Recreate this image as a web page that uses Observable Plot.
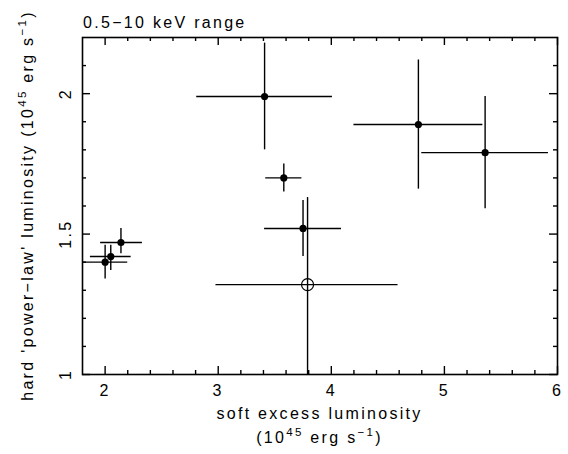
<!DOCTYPE html>
<html><head><meta charset="utf-8">
<script src="https://cdn.jsdelivr.net/npm/d3@7"></script>
<script src="https://cdn.jsdelivr.net/npm/@observablehq/plot@0.6"></script>
<style>
body{margin:0;background:#fff}
svg text{letter-spacing:2.3px}
</style>
</head><body><div id="chart"></div>
<script>
// data
const xs  = [2.00, 2.05, 2.14, 3.41, 3.58, 3.75, 3.79, 4.77, 5.36];
const ys  = [1.40, 1.42, 1.47, 1.99, 1.70, 1.52, 1.32, 1.89, 1.79];
const xlo = [1.80, 1.87, 1.96, 2.81, 3.42, 3.41, 2.98, 4.20, 4.80];
const xhi = [2.20, 2.23, 2.33, 4.01, 3.74, 4.09, 4.59, 5.34, 5.92];
const ylo = [1.34, 1.37, 1.43, 1.80, 1.65, 1.42, 1.00, 1.66, 1.59];
const yhi = [1.46, 1.46, 1.52, 2.18, 1.75, 1.62, 1.63, 2.12, 1.99];
const kind = ["filled","filled","filled","filled","filled","filled","open","filled","filled"];

const xMajor = [2, 3, 4, 5, 6];
const xMinor = [2.2, 2.4, 2.6, 2.8, 3.2, 3.4, 3.6, 3.8, 4.2, 4.4, 4.6, 4.8, 5.2, 5.4, 5.6, 5.8];
const yMajor = [1, 1.5, 2];
const yMinor = [1.1, 1.2, 1.3, 1.4, 1.6, 1.7, 1.8, 1.9, 2.1];

const titleText = "0.5\u221210 keV range";
const xLabel1 = "soft excess luminosity";
const unitParts = [["(10",0],["45",1],[" erg s",0],["\u22121",1],[")",0]];
const yLabelParts = [["hard 'power\u2212law' luminosity (10",0],["45",1],[" erg s",0],["\u22121",1],[")",0]];

const data = xs.map((x, i) => ({x, y: ys[i], xlo: xlo[i], xhi: xhi[i], ylo: ylo[i], yhi: yhi[i], kind: kind[i]}));

const W = 568, H = 454, mL = 82, mR = 11, mT = 37, mB = 80;
const innerW = W - mL - mR, innerH = H - mT - mB;
const FONT = '"Liberation Sans", Arial, Helvetica, sans-serif';
const majorLen = 8, minorLen = 4, sw = 1.4;

const plot = Plot.plot({
  width: W, height: H,
  marginLeft: mL, marginRight: mR, marginTop: mT, marginBottom: mB,
  x: {domain: [1.8, 6]},
  y: {domain: [1, 2.2]},
  style: {fontFamily: FONT, fontSize: "16px", background: "white", color: "black"},
  marks: [
    // inward ticks on all four sides
    Plot.ruleX(xMajor, {x: d => d, insetTop: innerH - majorLen, stroke: "black", strokeWidth: sw}),
    Plot.ruleX(xMinor, {x: d => d, insetTop: innerH - minorLen, stroke: "black", strokeWidth: sw}),
    Plot.ruleX(xMajor, {x: d => d, insetBottom: innerH - majorLen, stroke: "black", strokeWidth: sw}),
    Plot.ruleX(xMinor, {x: d => d, insetBottom: innerH - minorLen, stroke: "black", strokeWidth: sw}),
    Plot.ruleY(yMajor, {y: d => d, insetRight: innerW - majorLen, stroke: "black", strokeWidth: sw}),
    Plot.ruleY(yMinor, {y: d => d, insetRight: innerW - minorLen, stroke: "black", strokeWidth: sw}),
    Plot.ruleY(yMajor, {y: d => d, insetLeft: innerW - majorLen, stroke: "black", strokeWidth: sw}),
    Plot.ruleY(yMinor, {y: d => d, insetLeft: innerW - minorLen, stroke: "black", strokeWidth: sw}),
    Plot.axisX({ticks: xMajor, tickSize: 0, tickPadding: 10, tickFormat: d => String(d), label: null, fontSize: 16}),
    Plot.axisY({ticks: yMajor, tickSize: 0, tickPadding: 16.5, tickRotate: -90, textAnchor: "middle", lineAnchor: "middle", tickFormat: d => String(d), label: null, fontSize: 16}),
    // error bars
    Plot.ruleY(data, {y: "y", x1: "xlo", x2: "xhi", stroke: "black", strokeWidth: sw, clip: true}),
    Plot.ruleX(data, {x: "x", y1: "ylo", y2: "yhi", stroke: "black", strokeWidth: sw, clip: true}),
    // markers
    Plot.dot(data.filter(d => d.kind === "filled"), {x: "x", y: "y", r: 3.6, fill: "black", stroke: "none"}),
    Plot.dot(data.filter(d => d.kind === "open"), {x: "x", y: "y", r: 6, fill: "none", stroke: "black", strokeWidth: 1.2}),
    Plot.frame({stroke: "black", strokeWidth: 1.6})
  ]
});

const svg = d3.select(plot);
function addRich(parts, attrs) {
  const t = svg.append("text")
    .attr("fill", "black").attr("font-family", FONT).attr("font-size", 16);
  for (const [k, v] of Object.entries(attrs)) t.attr(k, v);
  let raised = false;
  for (const [s, sup] of parts) {
    const ts = t.append("tspan").text(s);
    if (sup && !raised) { ts.attr("dy", -7).attr("font-size", 11.5); raised = true; }
    else if (sup) { ts.attr("font-size", 11.5); }
    else if (!sup && raised) { ts.attr("dy", 7); raised = false; }
  }
  return t;
}
addRich([[titleText, 0]], {x: 83, y: 28, "text-anchor": "start"});
addRich([[xLabel1, 0]], {x: mL + innerW / 2, y: 419, "text-anchor": "middle"});
addRich(unitParts, {x: mL + innerW / 2, y: 443, "text-anchor": "middle"});
addRich(yLabelParts, {transform: `translate(33,${mT + innerH / 2}) rotate(-90)`, "text-anchor": "middle"});

document.getElementById("chart").appendChild(plot);
</script>
</body></html>
